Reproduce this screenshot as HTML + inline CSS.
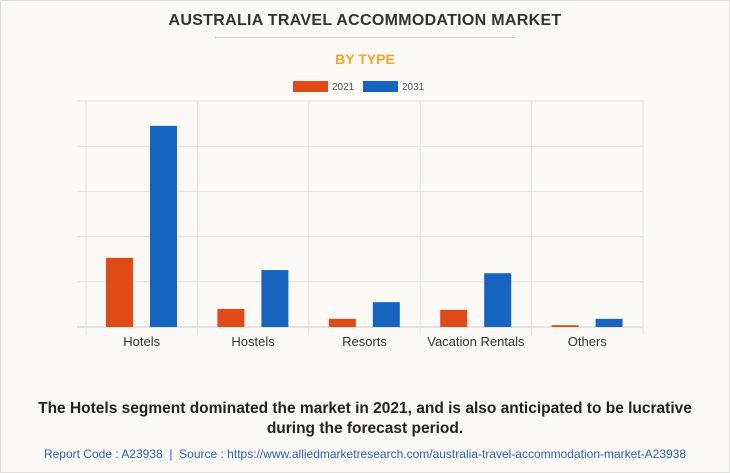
<!DOCTYPE html>
<html><head><meta charset="utf-8"><style>
body{margin:0;width:730px;height:473px;background:#fff;font-family:"Liberation Sans",sans-serif;overflow:hidden}
#frame{position:absolute;left:0;top:0;width:728px;height:471px;border:1px solid #ddd;background:#faf9f5}
.t{position:absolute;left:0;width:730px;text-align:center}
</style></head><body>
<div id="frame"></div>
<div class="t" style="top:12px;font-size:16px;font-weight:bold;color:#333;letter-spacing:0.3px">AUSTRALIA TRAVEL ACCOMMODATION MARKET</div>
<div style="position:absolute;left:215px;top:37px;width:300px;height:1px;background:#ccc"></div>
<div class="t" style="top:51px;font-size:14px;font-weight:bold;color:#f5a623">BY TYPE</div>
<svg id="c" width="730" height="473" style="position:absolute;left:0;top:0">
 <g font-size="10" fill="#555">
  <rect x="293" y="81" width="35" height="11" fill="#e04a17"/>
  <text x="332" y="90">2021</text>
  <rect x="363" y="81" width="35" height="11" fill="#1565c0"/>
  <text x="402" y="90">2031</text>
 </g>
</svg>
<div class="t" style="top:399px;font-size:15.5px;font-weight:bold;color:#222;line-height:20px">The Hotels segment dominated the market in 2021, and is also anticipated to be lucrative<br>during the forecast period.</div>
<div class="t" style="top:447px;font-size:12px;color:#2a62b5">Report Code : A23938 &nbsp;|&nbsp; Source : https://www.alliedmarketresearch.com/australia-travel-accommodation-market-A23938</div>
<script>
const categories=["Hotels","Hostels","Resorts","Vacation Rentals","Others"];
const values2021=[1.53,0.40,0.18,0.38,0.04];
const values2031=[4.45,1.26,0.55,1.19,0.18];
const yTicks=[0,1,2,3,4,5];
const NS="http://www.w3.org/2000/svg";
const svg=document.getElementById('c');
const L=86,R=643,T=101,B=327,yMax=5;
const cw=(R-L)/categories.length;
const y=v=>B-(v/yMax)*(B-T);
const xc=i=>L+i*cw;
function mk(t,a){const e=document.createElementNS(NS,t);for(const k in a)e.setAttribute(k,a[k]);svg.appendChild(e);return e;}
yTicks.forEach(v=>{const l=mk('line',{x1:77,x2:R,y1:y(v),y2:y(v),stroke:v===0?'#ccc':'#e4e4e4','stroke-width':1});

});
for(let i=0;i<=categories.length;i++){const l=mk('line',{x1:xc(i),x2:xc(i),y1:T,y2:B+8,stroke:'#e4e4e4','stroke-width':1});

}
categories.forEach((c,i)=>{
 const b1=mk('rect',{x:xc(i)+20,y:y(values2021[i]),width:27,height:B-y(values2021[i]),fill:'#e04a17'});
 
 
 const b2=mk('rect',{x:xc(i)+64,y:y(values2031[i]),width:27,height:B-y(values2031[i]),fill:'#1565c0'});
 
 
 const t=mk('text',{x:xc(i)+cw/2,y:346,'text-anchor':'middle','font-size':13,fill:'#333'});
 t.textContent=c;
 
 
});
</script>
</body></html>
